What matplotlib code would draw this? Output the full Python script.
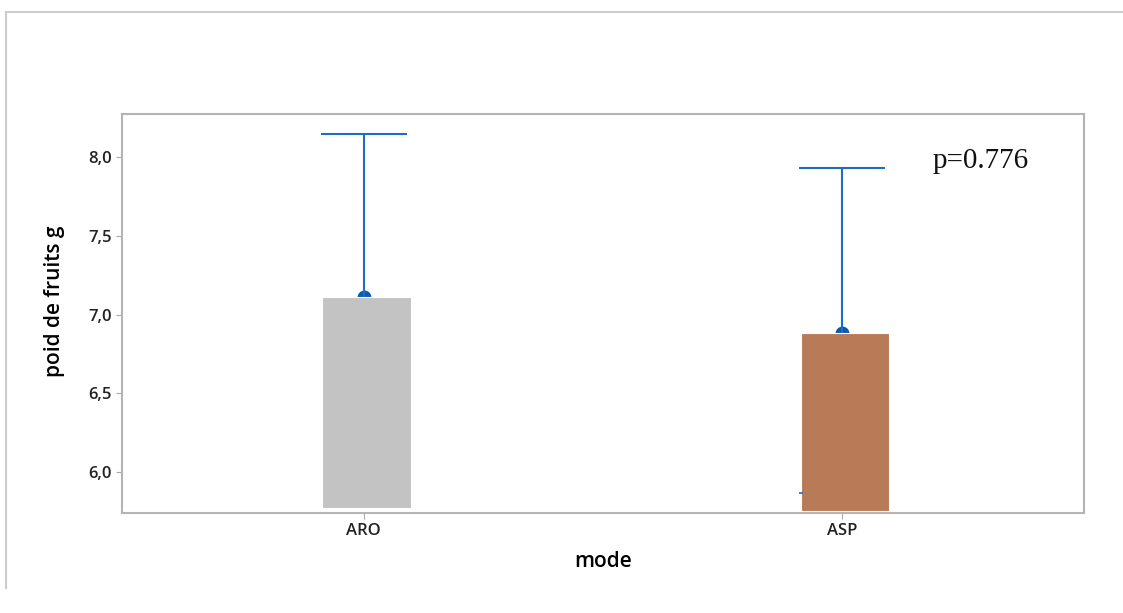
import numpy as np
import matplotlib.pyplot as plt
from matplotlib.lines import Line2D

# valeurs
modes = ["ARO", "ASP"]
moyennes = [7.11, 6.88]
bas_barres = [5.77, 5.75]
haut_erreur = [8.145, 7.93]
couleurs = ["#c3c3c3", "#b97a57"]
p_texte = "p=0.776"

plt.rcParams['font.family'] = ['Open Sans', 'DejaVu Sans']

fig = plt.figure(figsize=(11.23, 6.13), dpi=100)
ax = fig.add_axes([122 / 1123, 1 - 513 / 613, (1084 - 122) / 1123, (513 - 114) / 613])

x = np.arange(len(modes))
decal = 0.006

# marqueurs de moyenne (demi-cercle, moitié cachée par la barre)
ax.plot(x, moyennes, 'o', color='#0a5bab', markersize=9, zorder=1)
ax.bar(x + decal, np.array(moyennes) - np.array(bas_barres), bottom=bas_barres,
       width=0.185, color=couleurs, edgecolor='white', linewidth=0.8, zorder=2)

# barres d'erreur (partie haute)
ax.vlines(x, moyennes, haut_erreur, color='#1f6cc0', linewidth=1.5, zorder=3)
ax.hlines(haut_erreur, x - 0.09, x + 0.09, color='#1f6cc0', linewidth=1.5, zorder=3)
# petit reste du trait bas de ASP
ax.hlines(5.867, 0.91, 0.918, color='#1f6cc0', linewidth=1.2, zorder=3)

ax.set_xlim(-0.505, 1.505)
ax.set_ylim(5.74, 8.273)
ax.set_xticks(x)
ax.set_xticklabels(modes)
ax.set_yticks([6.0, 6.5, 7.0, 7.5, 8.0])
ax.set_yticklabels(["6,0", "6,5", "7,0", "7,5", "8,0"])
ax.tick_params(labelsize=12, colors='#aaaaaa', labelcolor='#222222', length=4)
for lab in ax.get_xticklabels() + ax.get_yticklabels():
    lab.set_fontweight('semibold')

for s in ax.spines.values():
    s.set_color('#b4b4b4')
    s.set_linewidth(1.5)

ax.set_xlabel("mode", fontsize=15, fontweight='semibold', labelpad=8)
ax.set_ylabel("poid de fruits g", fontsize=15, fontweight='semibold')
ax.yaxis.set_label_coords(-0.059, 0.53)

ax.text(0.843, 0.865, p_texte, transform=ax.transAxes, fontsize=21,
        family='Liberation Serif', color='#111111')

# cadre extérieur
fig.add_artist(Line2D([6 / 1123, 1], [1 - 12 / 613, 1 - 12 / 613],
                      transform=fig.transFigure, color='#cccccc', linewidth=1.5))
fig.add_artist(Line2D([6 / 1123, 6 / 1123], [1 - 12 / 613, 1 - 588 / 613],
                      transform=fig.transFigure, color='#cccccc', linewidth=1.5))

fig.savefig('out.png', dpi=100)
